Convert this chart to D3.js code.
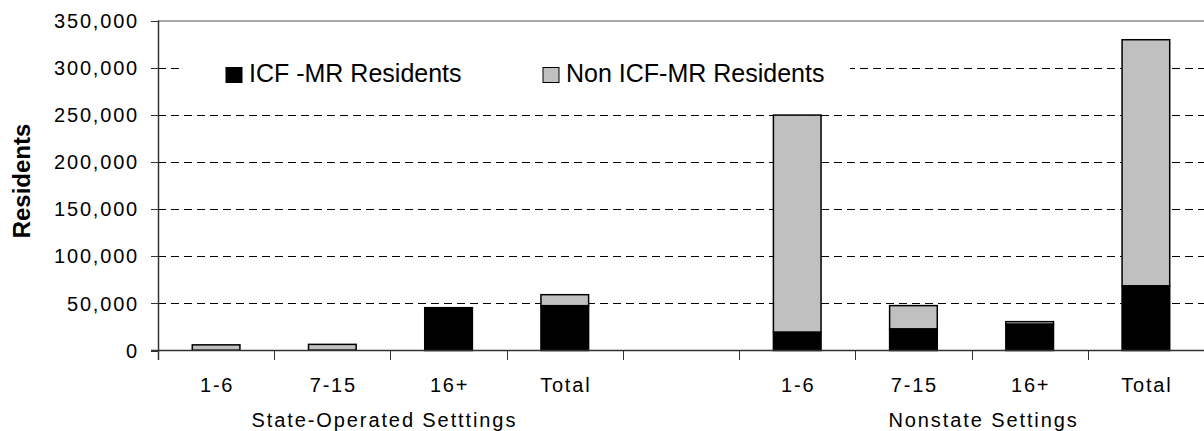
<!DOCTYPE html>
<html>
<head>
<meta charset="utf-8">
<script src="https://cdn.jsdelivr.net/npm/d3@7"></script>
<style>
  body { margin: 0; background: #fff; }
  text { font-family: "Liberation Sans", Arial, sans-serif; fill: #000; }
</style>
</head>
<body>
<svg id="chart"></svg>
<script>
/*Chart data*/
const groups = ["State-Operated Setttings", "Nonstate Settings"];
const sizeLabels = ["1-6", "7-15", "16+", "Total"];
const stateICF = [300, 400, 44800, 47500];
const stateNonICF = [5700, 6100, 600, 11700];
const nonstateICF = [19300, 22800, 27800, 68500];
const nonstateNonICF = [230400, 24800, 2800, 261100];
const seriesNames = ["ICF -MR Residents", "Non ICF-MR Residents"];
const seriesColors = ["#000000", "#c0c0c0"];
const yTicks = [0, 50000, 100000, 150000, 200000, 250000, 300000, 350000];

const chartWidth = 1204;
const chartHeight = 431;
const plotLeft = 158, plotRight = 1204, plotTop = 20.5, plotBottom = 350.5;

/*Build the 9 slots: 4 state, one empty gap, 4 nonstate*/
const slots = [];
sizeLabels.forEach((s, i) => slots.push({id: "s" + i, label: s, group: 0, icf: stateICF[i], non: stateNonICF[i]}));
slots.push({id: "gap", label: "", group: -1, icf: 0, non: 0});
sizeLabels.forEach((s, i) => slots.push({id: "n" + i, label: s, group: 1, icf: nonstateICF[i], non: nonstateNonICF[i]}));

const svg = d3.select("#chart")
       .attr("width", chartWidth)
       .attr("height", chartHeight);

const x = d3.scaleBand()
       .domain(slots.map(d => d.id))
       .range([plotLeft, plotRight])
       .padding(0);

const y = d3.scaleLinear()
       .domain([0, 350000])
       .range([plotBottom, plotTop]);

const barW = x.bandwidth() * 0.41;

/*gridlines*/
svg.append("g")
       .selectAll("line")
       .data(yTicks.filter(t => t > 0 && t < 350000))
       .enter()
       .append("line")
       .attr("x1", plotLeft)
       .attr("x2", plotRight)
       .attr("y1", d => Math.round(y(d)) + 0.5)
       .attr("y2", d => Math.round(y(d)) + 0.5)
       .attr("stroke", "#000")
       .attr("stroke-width", 1)
       .attr("stroke-dasharray", "8,5");

/*top frame*/
svg.append("line")
       .attr("x1", plotLeft).attr("x2", plotRight)
       .attr("y1", 21).attr("y2", 21)
       .attr("stroke", "#8c8c8c")
       .attr("stroke-width", 1.5);

/*legend background covers the gridline*/
svg.append("rect")
       .attr("x", 180).attr("y", 50)
       .attr("width", 670).attr("height", 42)
       .attr("fill", "#fff");

/*stacked bars*/
const bars = svg.append("g").selectAll("g")
       .data(slots.filter(d => d.group >= 0))
       .enter()
       .append("g");

bars.append("rect")
       .attr("x", d => x(d.id) + (x.bandwidth() - barW) / 2)
       .attr("width", barW)
       .attr("y", d => y(d.icf + d.non))
       .attr("height", d => y(d.icf) - y(d.icf + d.non))
       .attr("fill", seriesColors[1])
       .attr("stroke", "#000")
       .attr("stroke-width", 1.5);

bars.filter(d => y(0) - y(d.icf) > 1).append("rect")
       .attr("x", d => x(d.id) + (x.bandwidth() - barW) / 2)
       .attr("width", barW)
       .attr("y", d => y(d.icf))
       .attr("height", d => y(0) - y(d.icf))
       .attr("fill", seriesColors[0])
       .attr("stroke", "#000")
       .attr("stroke-width", 1.5);

/*y axis*/
const yAxis = svg.append("g");
yAxis.append("line")
       .attr("x1", plotLeft + 0.5).attr("x2", plotLeft + 0.5)
       .attr("y1", plotTop).attr("y2", 360)
       .attr("stroke", "#333").attr("stroke-width", 1.5);
yAxis.selectAll(".ytick")
       .data(yTicks)
       .enter()
       .append("line")
       .attr("x1", 151).attr("x2", plotLeft)
       .attr("y1", d => Math.round(y(d)) + 0.5)
       .attr("y2", d => Math.round(y(d)) + 0.5)
       .attr("stroke", "#333");
yAxis.selectAll(".ylab")
       .data(yTicks)
       .enter()
       .append("text")
       .attr("x", 139)
       .attr("y", d => y(d))
       .attr("dy", "0.36em")
       .attr("text-anchor", "end")
       .style("font-size", "20px")
       .style("letter-spacing", "1.8px")
       .text(d => d3.format(",")(d));

/*x axis*/
const xAxis = svg.append("g");
xAxis.append("line")
       .attr("x1", 151).attr("x2", plotRight)
       .attr("y1", plotBottom).attr("y2", plotBottom)
       .attr("stroke", "#333").attr("stroke-width", 1.5);
xAxis.selectAll(".xtick")
       .data(slots.map(d => d.id).concat(["end"]))
       .enter()
       .append("line")
       .attr("x1", d => Math.round(d === "end" ? plotRight : x(d)) + 0.5)
       .attr("x2", d => Math.round(d === "end" ? plotRight : x(d)) + 0.5)
       .attr("y1", plotBottom)
       .attr("y2", 360)
       .attr("stroke", "#333");
xAxis.selectAll(".xlab")
       .data(slots.filter(d => d.label))
       .enter()
       .append("text")
       .attr("x", d => x(d.id) + x.bandwidth() / 2 + 1)
       .attr("y", 392)
       .attr("text-anchor", "middle")
       .style("font-size", "20px")
       .style("letter-spacing", "1.8px")
       .text(d => d.label);

/*group labels*/
const groupOffset = [-6, 12];
xAxis.selectAll(".glab")
       .data(groups)
       .enter()
       .append("text")
       .attr("x", (g, i) => {
              const ids = slots.filter(d => d.group === i).map(d => d.id);
              return (x(ids[0]) + x(ids[ids.length - 1]) + x.bandwidth()) / 2 + groupOffset[i];
       })
       .attr("y", 427)
       .attr("text-anchor", "middle")
       .style("font-size", "20px")
       .style("letter-spacing", "1.9px")
       .text(d => d);

/*y axis title*/
svg.append("text")
       .attr("transform", "translate(30,181) rotate(-90)")
       .attr("text-anchor", "middle")
       .style("font-size", "24px")
       .style("font-weight", "bold")
       .text("Residents");

/*legend*/
const legendX = [226, 543];
const legend = svg.append("g").selectAll("g")
       .data(seriesNames)
       .enter()
       .append("g");
legend.append("rect")
       .attr("x", (d, i) => legendX[i])
       .attr("y", 67.5)
       .attr("width", 16)
       .attr("height", 15)
       .attr("fill", (d, i) => seriesColors[i])
       .attr("stroke", "#000")
       .attr("stroke-width", 1);
legend.append("text")
       .attr("x", (d, i) => legendX[i] + 23)
       .attr("y", 81.5)
       .style("font-size", "25px")
       .text(d => d);
</script>
</body>
</html>
